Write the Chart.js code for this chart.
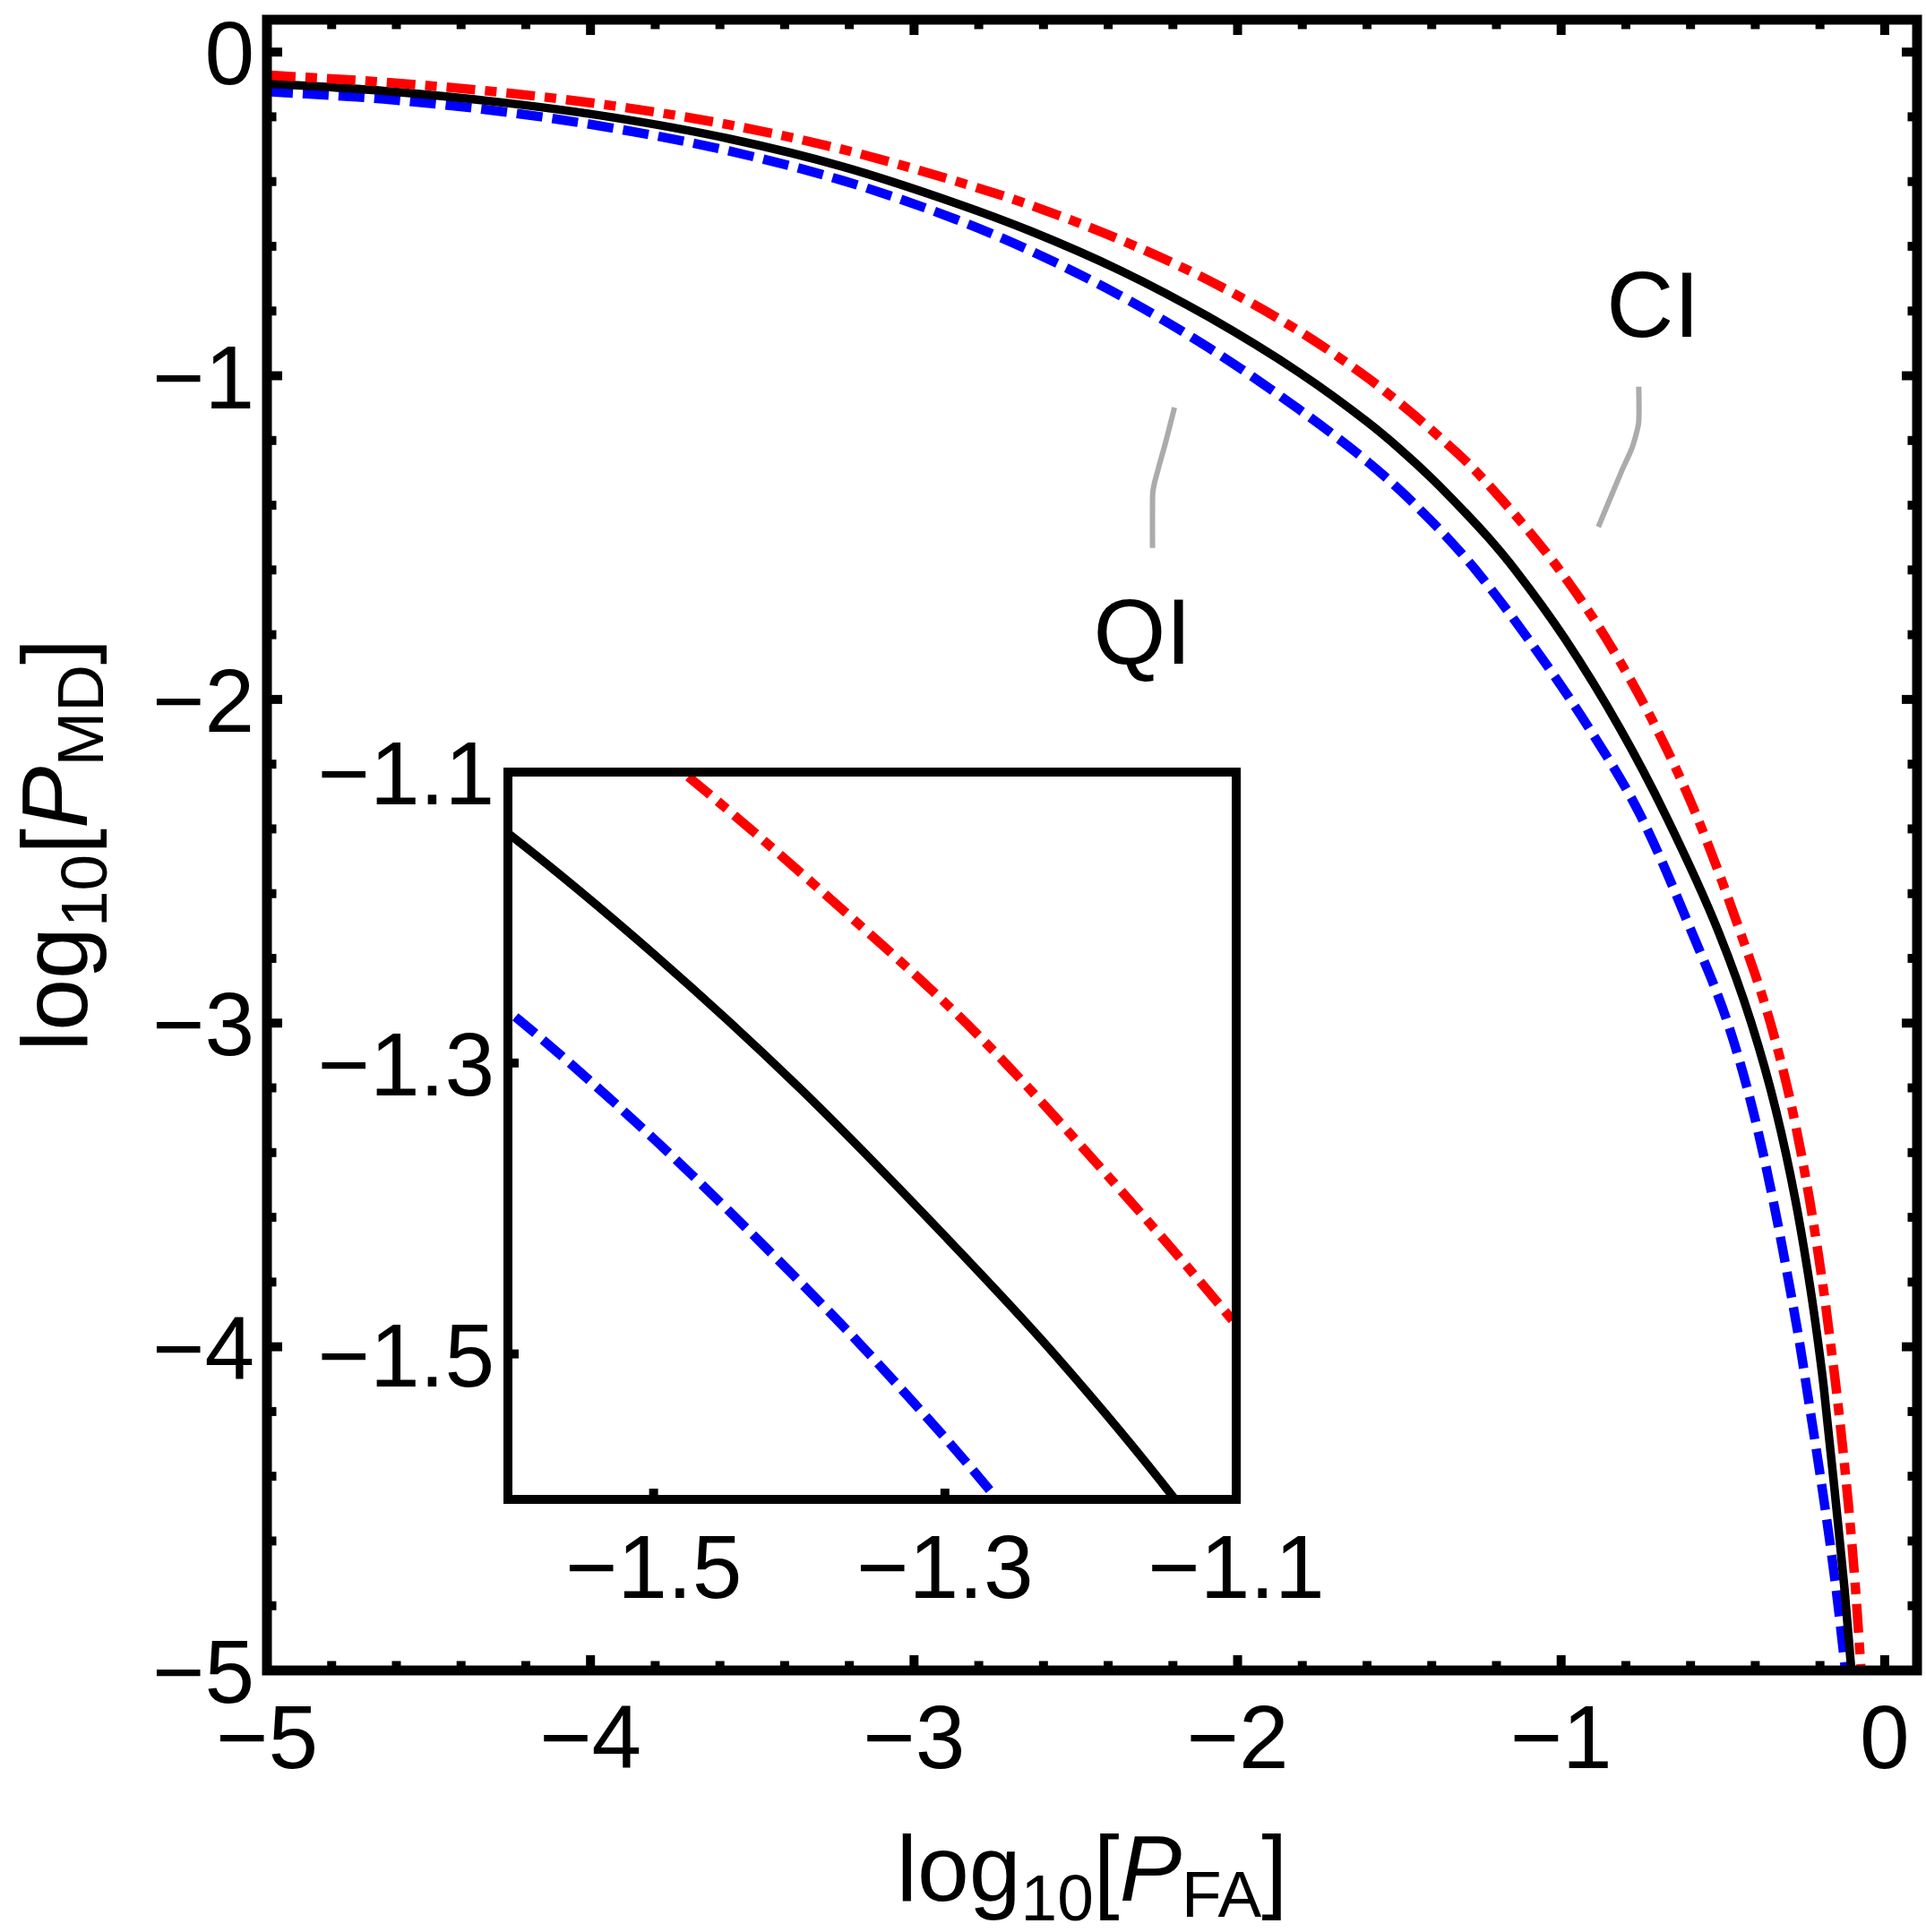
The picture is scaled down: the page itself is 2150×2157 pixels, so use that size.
<!DOCTYPE html>
<html>
<head>
<meta charset="utf-8">
<script src="https://cdn.jsdelivr.net/npm/chart.js@4.4.1/dist/chart.umd.min.js"></script>
<style>
html,body{margin:0;padding:0;background:#ffffff;}
#wrap{position:relative;width:2150px;height:2157px;background:#ffffff;}
#wrap canvas{position:absolute;left:0;top:0;}
</style>
</head>
<body>
<div id="wrap">
<canvas id="main" width="2150" height="2157"></canvas>
<canvas id="inset" width="2150" height="2157"></canvas>
</div>
<script>
// ---------------- data (log10 P_FA , log10 P_MD) ----------------
// red dash-dot curve (CI)
const ciX = [-5.00,-4.64,-4.28,-3.93,-3.57,-3.22,-2.87,-2.64,-2.36,-2.09,-1.81,-1.60,-1.48,-1.38,-1.279,-1.186,-1.100,-1.005,-0.862,-0.705,-0.581,-0.447,-0.353,-0.285,-0.232,-0.189,-0.166,-0.150,-0.111,-0.090,-0.073];
const ciY = [-0.071,-0.093,-0.124,-0.166,-0.225,-0.301,-0.399,-0.473,-0.581,-0.705,-0.862,-1.005,-1.100,-1.186,-1.279,-1.380,-1.480,-1.600,-1.810,-2.090,-2.360,-2.717,-3.000,-3.270,-3.547,-3.824,-4.000,-4.128,-4.500,-4.750,-5.000];
// black solid curve
const exX = [-5.00,-4.64,-4.28,-3.93,-3.57,-3.22,-2.87,-2.64,-2.36,-2.09,-1.81,-1.60,-1.50,-1.40,-1.30,-1.225,-1.142,-0.990,-0.818,-0.676,-0.514,-0.412,-0.336,-0.276,-0.229,-0.204,-0.188,-0.149,-0.124,-0.103];
const exY = [-0.097,-0.120,-0.155,-0.202,-0.268,-0.354,-0.467,-0.553,-0.676,-0.818,-0.990,-1.142,-1.225,-1.317,-1.419,-1.500,-1.600,-1.810,-2.090,-2.360,-2.717,-3.000,-3.270,-3.547,-3.824,-4.000,-4.128,-4.500,-4.750,-5.000];
// blue dashed curve (QI)
const qiX = [-5.00,-4.64,-4.28,-3.93,-3.57,-3.22,-2.87,-2.64,-2.36,-2.09,-1.81,-1.60,-1.50,-1.40,-1.352,-1.264,-1.104,-0.913,-0.754,-0.597,-0.485,-0.407,-0.345,-0.292,-0.261,-0.241,-0.184,-0.150,-0.121];
const qiY = [-0.122,-0.145,-0.183,-0.235,-0.306,-0.397,-0.517,-0.614,-0.754,-0.913,-1.104,-1.264,-1.352,-1.450,-1.500,-1.600,-1.810,-2.090,-2.360,-2.717,-3.000,-3.270,-3.547,-3.824,-4.000,-4.128,-4.500,-4.750,-5.000];

// callout leader lines (data coordinates)
const qiLeadX = [-2.195,-2.222,-2.245,-2.261,-2.263,-2.263];
const qiLeadY = [-1.098,-1.204,-1.287,-1.352,-1.407,-1.532];
const ciLeadX = [-0.760,-0.760,-0.767,-0.781,-0.814,-0.885];
const ciLeadY = [-1.034,-1.140,-1.176,-1.223,-1.297,-1.467];
const calloutText = ['CI','QI'];
const calloutX = [-0.716,-2.294];
const calloutY = [-0.778,-1.788];

// axes
const mainRange = [-5, 0.1];
const mainTickValues = [-5,-4,-3,-2,-1,0];
const mainTickLabels = ['\u22125','\u22124','\u22123','\u22122','\u22121','0'];
const mainMinorStep = 0.2;
const insetRange = [-1.6, -1.1];
const insetTickValues = [-1.5,-1.3,-1.1];
const insetTickLabels = ['\u22121.5','\u22121.3','\u22121.1'];

// ---------------- helpers ----------------
const FAM = '"Liberation Sans", Arial, Helvetica, sans-serif';
function pts(xs, ys){ return xs.map((v,i)=>({x:v, y:ys[i]})); }
function curveSets(){
  return [
    {label:'CI', data:pts(ciX,ciY), borderColor:'#ff0000', borderWidth:10.5, borderDash:[32,11,13,11]},
    {label:'exact', data:pts(exX,exY), borderColor:'#000000', borderWidth:9.5, borderDash:[]},
    {label:'QI', data:pts(qiX,qiY), borderColor:'#0000ff', borderWidth:10.5, borderDash:[29,11]}
  ].map(d=>Object.assign(d,{pointRadius:0,pointHoverRadius:0,fill:false,
     cubicInterpolationMode:'monotone',capBezierPoints:false,clip:0,borderCapStyle:'butt',borderJoinStyle:'round'}));
}
function leaderSet(xs, ys){
  return {label:'leader', data:pts(xs,ys), borderColor:'#ababab', borderWidth:6,
          pointRadius:0, pointHoverRadius:0, fill:false, tension:0.35, clip:false,
          borderCapStyle:'butt', borderJoinStyle:'round'};
}
function drawRich(ctx, parts, cx, baseY, rotate){
  ctx.save();
  ctx.translate(cx, baseY);
  if (rotate) ctx.rotate(-Math.PI/2);
  let total = 0;
  const widths = parts.map(p=>{
    ctx.font = (p.italic?'italic ':'') + p.size + 'px ' + FAM;
    const w = ctx.measureText(p.t).width; total += w; return w;
  });
  let xx = -total/2;
  ctx.fillStyle = '#000';
  ctx.textAlign = 'left';
  ctx.textBaseline = 'alphabetic';
  parts.forEach((p,i)=>{
    ctx.font = (p.italic?'italic ':'') + p.size + 'px ' + FAM;
    ctx.fillText(p.t, xx, p.dy||0);
    xx += widths[i];
  });
  ctx.restore();
}

const baseOpts = {
  responsive:false, maintainAspectRatio:false, animation:false, devicePixelRatio:1, events:[],
  plugins:{legend:{display:false}, tooltip:{enabled:false}}
};

// ---------------- main chart decorations ----------------
const mainDecor = {
  id:'mainDecor',
  afterDatasetsDraw(chart){
    const {ctx, chartArea:a, scales:{x, y}} = chart;
    ctx.save();
    ctx.fillStyle = '#000';
    const T = 10, MAJ = 17, MIN = 10.5;
    const minors = [];
    for (let k = 0; mainRange[0] + k*mainMinorStep <= mainRange[1] + 1e-9; k++) {
      minors.push(+(mainRange[0] + k*mainMinorStep).toFixed(4));
    }
    minors.forEach(v=>{
      const isMaj = mainTickValues.some(m=>Math.abs(m-v)<1e-6);
      const L = isMaj ? MAJ : MIN;
      const px = x.getPixelForValue(v), py = y.getPixelForValue(v);
      ctx.fillRect(px - T/2, a.bottom - L, T, L);
      ctx.fillRect(px - T/2, a.top, T, L);
      ctx.fillRect(a.left, py - T/2, L, T);
      ctx.fillRect(a.right - L, py - T/2, L, T);
    });
    ctx.strokeStyle = '#000';
    ctx.lineWidth = 11;
    ctx.lineJoin = 'miter';
    ctx.strokeRect(a.left, a.top, a.right - a.left, a.bottom - a.top);

    // tick labels
    ctx.font = '100px ' + FAM;
    ctx.textBaseline = 'alphabetic';
    ctx.textAlign = 'center';
    mainTickValues.forEach((v,i)=>{
      ctx.fillText(mainTickLabels[i], x.getPixelForValue(v), a.bottom + 109);
    });
    ctx.textAlign = 'right';
    mainTickValues.forEach((v,i)=>{
      ctx.fillText(mainTickLabels[i], a.left - 14, y.getPixelForValue(v) + 36);
    });

    // callout labels
    ctx.font = '104px ' + FAM;
    ctx.textAlign = 'center';
    calloutText.forEach((t,i)=>{
      ctx.fillText(t, x.getPixelForValue(calloutX[i]), y.getPixelForValue(calloutY[i]) + 37);
    });
    ctx.restore();

    // axis titles
    const cxMid = (a.left + a.right)/2, cyMid = (a.top + a.bottom)/2;
    drawRich(ctx, [
      {t:'log', size:104}, {t:'10', size:73, dy:22}, {t:'[', size:104},
      {t:'P', size:104, italic:true}, {t:'FA', size:73, dy:18}, {t:']', size:104}
    ], cxMid, a.bottom + 257, false);
    ctx.save();
    ctx.translate(a.left - 201, cyMid);
    drawRich(ctx, [
      {t:'log', size:104}, {t:'10', size:73, dy:22}, {t:'[', size:104},
      {t:'P', size:104, italic:true}, {t:'MD', size:73, dy:18}, {t:']', size:104}
    ], 0, 0, true);
    ctx.restore();
  }
};

new Chart(document.getElementById('main'), {
  type:'line',
  data:{datasets:[...curveSets(), leaderSet(qiLeadX, qiLeadY), leaderSet(ciLeadX, ciLeadY)]},
  options:Object.assign({}, baseOpts, {
    layout:{padding:{left:298, right:10, top:22, bottom:292}},
    scales:{
      x:{type:'linear', min:mainRange[0], max:mainRange[1], display:false},
      y:{type:'linear', min:mainRange[0], max:mainRange[1], display:false}
    }
  }),
  plugins:[mainDecor]
});

// ---------------- inset chart ----------------
const insetDecor = {
  id:'insetDecor',
  afterDatasetsDraw(chart){
    const {ctx, chartArea:a, scales:{x, y}} = chart;
    ctx.save();
    ctx.fillStyle = '#000';
    const T = 10, L = 12;
    insetTickValues.forEach(v=>{
      const px = x.getPixelForValue(v), py = y.getPixelForValue(v);
      ctx.fillRect(px - T/2, a.bottom - L, T, L);
      ctx.fillRect(a.left, py - T/2, L, T);
    });
    ctx.strokeStyle = '#000';
    ctx.lineWidth = 10;
    ctx.lineJoin = 'miter';
    ctx.strokeRect(a.left, a.top, a.right - a.left, a.bottom - a.top);
    ctx.font = '100px ' + FAM;
    ctx.textBaseline = 'alphabetic';
    ctx.textAlign = 'center';
    insetTickValues.forEach((v,i)=>{
      ctx.fillText(insetTickLabels[i], x.getPixelForValue(v), a.bottom + 110);
    });
    ctx.textAlign = 'right';
    insetTickValues.forEach((v,i)=>{
      ctx.fillText(insetTickLabels[i], a.left - 15, y.getPixelForValue(v) + 36);
    });
    ctx.restore();
  }
};

new Chart(document.getElementById('inset'), {
  type:'line',
  data:{datasets:curveSets()},
  options:Object.assign({}, baseOpts, {
    layout:{padding:{left:567, right:770, top:862, bottom:483}},
    scales:{
      x:{type:'linear', min:insetRange[0], max:insetRange[1], display:false},
      y:{type:'linear', min:insetRange[0], max:insetRange[1], display:false}
    }
  }),
  plugins:[insetDecor]
});
</script>
</body>
</html>
